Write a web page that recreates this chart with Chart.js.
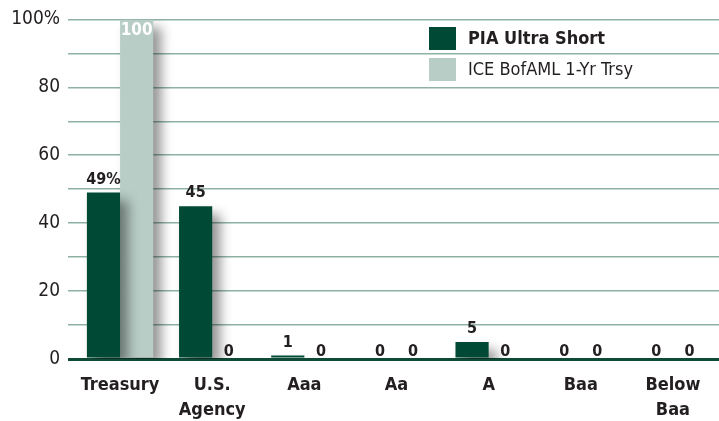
<!DOCTYPE html>
<html>
<head>
  <title>Credit Quality</title>
  <script src="https://cdn.jsdelivr.net/npm/chart.js"></script>
  <style>
    html, body { margin: 0; padding: 0; background: #fff; }
    #wrap { width: 719px; height: 421px; }
  </style>
</head>
<body>
  <div id="wrap"><canvas id="qualityChart" width="719" height="421"></canvas></div>

  <script>
    const categories = [['Treasury'], ['U.S.', 'Agency'], ['Aaa'], ['Aa'], ['A'], ['Baa'], ['Below', 'Baa']];
    const piaValues = [49, 45, 1, 0, 5, 0, 0];
    const iceValues = [100, 0, 0, 0, 0, 0, 0];
    const seriesNames = ['PIA Ultra Short', 'ICE BofAML 1-Yr Trsy'];

    const FONT = "'DejaVu Sans Condensed', 'Liberation Sans Narrow', sans-serif";
    const darkGreen = '#004a35';
    const lightGreen = '#b8cdc6';

    // drop shadow behind the bars
    const shadowPlugin = {
      id: 'barShadow',
      beforeDatasetsDraw(chart) {
        const c = chart.ctx;
        c.save();
        c.shadowColor = 'rgba(0,0,0,0.42)';
        c.shadowBlur = 12;
        c.shadowOffsetX = 8;
        c.shadowOffsetY = 8;
      },
      afterDatasetsDraw(chart) {
        chart.ctx.restore();
      }
    };

    // value labels above / inside the bars
    const valueLabels = {
      id: 'valueLabels',
      afterDatasetsDraw(chart) {
        const c = chart.ctx;
        c.save();
        c.textAlign = 'center';
        c.textBaseline = 'middle';
        chart.data.datasets.forEach((ds, di) => {
          chart.getDatasetMeta(di).data.forEach((bar, i) => {
            const v = ds.data[i];
            let txt = String(v);
            if (di === 0 && i === 0) txt = v + '%';
            if (v >= 90) {
              c.fillStyle = '#ffffff';
              c.font = 'bold 17px ' + FONT;
              c.fillText(txt, bar.x, bar.y + 11);
            } else {
              c.fillStyle = '#231f20';
              c.font = 'bold 16px ' + FONT;
              c.fillText(txt, bar.x, bar.y - (v > 0 ? 13 : 7));
            }
          });
        });
        c.restore();
      }
    };

    // legend drawn on top of the plot
    const boxLegend = {
      id: 'boxLegend',
      afterDraw(chart) {
        const c = chart.ctx;
        c.save();
        c.textBaseline = 'middle';
        chart.data.datasets.forEach((ds, di) => {
          const y = 27 + di * 31;
          c.fillStyle = ds.backgroundColor;
          c.fillRect(429, y, 27, 23);
          c.fillStyle = '#231f20';
          c.font = (di === 0 ? 'bold ' : '') + '18px ' + FONT;
          c.fillText(ds.label, 468, y + 12);
        });
        c.restore();
      }
    };

    const ctx = document.getElementById('qualityChart').getContext('2d');
    const qualityChart = new Chart(ctx, {
      type: 'bar',
      data: {
        labels: categories,
        datasets: [
          { label: seriesNames[0], data: piaValues, backgroundColor: darkGreen },
          { label: seriesNames[1], data: iceValues, backgroundColor: lightGreen }
        ]
      },
      options: {
        responsive: false,
        animation: false,
        layout: { padding: { top: 10, right: 0, left: 0, bottom: 0 } },
        categoryPercentage: 0.72,
        barPercentage: 1.0,
        plugins: {
          legend: { display: false },
          tooltip: { enabled: false }
        },
        scales: {
          x: {
            afterFit(scale) { scale.height = 62; },
            grid: { display: false },
            border: { display: false },
            ticks: {
              color: '#231f20',
              font: { family: FONT, size: 18, weight: 'bold', lineHeight: 1.4 },
              padding: 6,
              maxRotation: 0,
              autoSkip: false
            }
          },
          y: {
            min: 0,
            max: 100,
            afterFit(scale) { scale.width = 74; },
            border: { display: false },
            grid: {
              color: c => c.tick && c.tick.value === 0 ? '#0f4a36' : '#8db2a2',
              lineWidth: c => c.tick && c.tick.value === 0 ? 3 : 1.5,
              tickLength: 6
            },
            ticks: {
              stepSize: 10,
              padding: 8,
              color: '#231f20',
              font: { family: FONT, size: 19 },
              callback: v => v % 20 !== 0 ? '' : (v === 100 ? '100%' : v)
            }
          }
        }
      },
      plugins: [shadowPlugin, valueLabels, boxLegend]
    });
  </script>
</body>
</html>
